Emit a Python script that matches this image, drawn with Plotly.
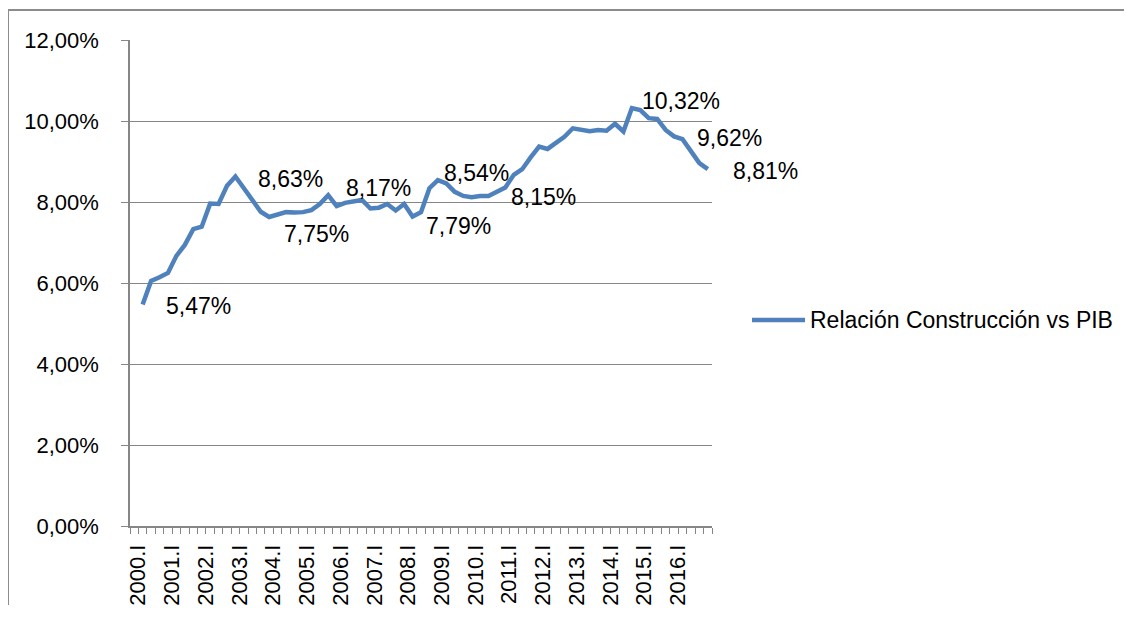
import plotly.graph_objects as go

# quarterly categories, 2000.I onwards (the first slot carries no value)
years = list(range(2000, 2018))
romans = ["I", "II", "III", "IV"]
quarters = [f"{y}.{r}" for y in years for r in romans][:69]

# relation construction / GDP, in percent
ratio = [None,
         5.47, 6.05, 6.14, 6.25, 6.67, 6.94, 7.33, 7.39, 7.96, 7.95,
         8.40, 8.63, 8.34, 8.07, 7.76, 7.63, 7.70, 7.75, 7.74, 7.75,
         7.80, 7.95, 8.17, 7.90, 7.98, 8.02, 8.05, 7.84, 7.86, 7.95,
         7.79, 7.95, 7.64, 7.75, 8.34, 8.54, 8.46, 8.25, 8.15, 8.12,
         8.15, 8.15, 8.25, 8.36, 8.67, 8.81, 9.10, 9.37, 9.31, 9.45,
         9.61, 9.82, 9.78, 9.75, 9.78, 9.76, 9.93, 9.74, 10.32, 10.27,
         10.07, 10.05, 9.78, 9.62, 9.55, 9.24, 8.96, 8.81]

# points that carry a data label, with (xshift, yshift) in px
labelled = [1, 12, 20, 23, 31, 36, 42, 59, 64, 68]
label_shift = [(21, -2), (21, -3), (-21, -22), (16, 7), (28, -15),
               (4, 7), (21, -1), (8, 7), (21, -2), (23, -2)]

series_name = "Relación Construcción vs PIB"
tick_idx = list(range(0, 65, 4))

blue = "#4F81BD"
grey = "#868686"
font = "Liberation Sans"

x = list(range(len(quarters)))
y = [None if v is None else v / 100 for v in ratio]

fig = go.Figure(go.Scatter(x=x, y=y, mode="lines", name=series_name,
                           line=dict(color=blue, width=4.5),
                           connectgaps=False, showlegend=False,
                           hoverinfo="skip"))

for i, (dx, dy) in zip(labelled, label_shift):
    fig.add_annotation(x=i, y=ratio[i] / 100, xref="x", yref="y",
                       text=f"{ratio[i]:.2f}%".replace(".", ","),
                       showarrow=False, xanchor="left", yanchor="middle",
                       xshift=dx, yshift=dy,
                       font=dict(family=font, size=23, color="black"))

# manual legend, right of the plot
fig.add_shape(type="line", xref="paper", yref="paper",
              x0=1.0687, x1=1.1598, y0=0.4239, y1=0.4239,
              line=dict(color=blue, width=4.5))
fig.add_annotation(xref="paper", yref="paper", x=1.1650, y=0.4239,
                   text=series_name, showarrow=False,
                   xanchor="left", yanchor="middle",
                   font=dict(family=font, size=23, color="black"))

# chart area border (top and left edge visible)
fig.add_shape(type="line", xref="paper", yref="paper",
              x0=-0.2096, x1=1.73, y0=1.0617, y1=1.0617,
              line=dict(color="#8c8c8c", width=2))
fig.add_shape(type="line", xref="paper", yref="paper",
              x0=-0.2096, x1=-0.2096, y0=1.0617, y1=-0.1626,
              line=dict(color="#8c8c8c", width=2))

fig.update_xaxes(range=[-0.5, 68.5], tickmode="array", tickvals=tick_idx,
                 ticktext=[quarters[i] for i in tick_idx], tickangle=-90,
                 ticks="", showgrid=False, zeroline=False,
                 showline=True, linecolor=grey, linewidth=1.5,
                 tickfont=dict(family=font, size=22, color="black"),
                 ticklabelstandoff=8, ticklabelshift=4,
                 minor=dict(ticks="outside", ticklen=6, tickcolor=grey,
                            tickwidth=1.3, tickmode="linear",
                            tick0=-0.5, dtick=1, showgrid=False))

fig.update_yaxes(range=[0, 0.12], tickmode="linear", tick0=0, dtick=0.02,
                 tickformat=".2%", ticks="outside", ticklen=7,
                 tickcolor=grey, tickwidth=1.3,
                 showgrid=True, gridcolor=grey, gridwidth=1.3,
                 zeroline=False, showline=True, linecolor=grey, linewidth=1.5,
                 tickfont=dict(family=font, size=22, color="black"),
                 ticklabelstandoff=18)

# the page adds an 8 px body margin, so the figure is 8 px smaller
fig.update_layout(width=1124, height=610, separators=",.",
                  paper_bgcolor="white", plot_bgcolor="white",
                  margin=dict(l=122, r=420, t=32, b=92),
                  showlegend=False)

fig.write_html("out.html")
